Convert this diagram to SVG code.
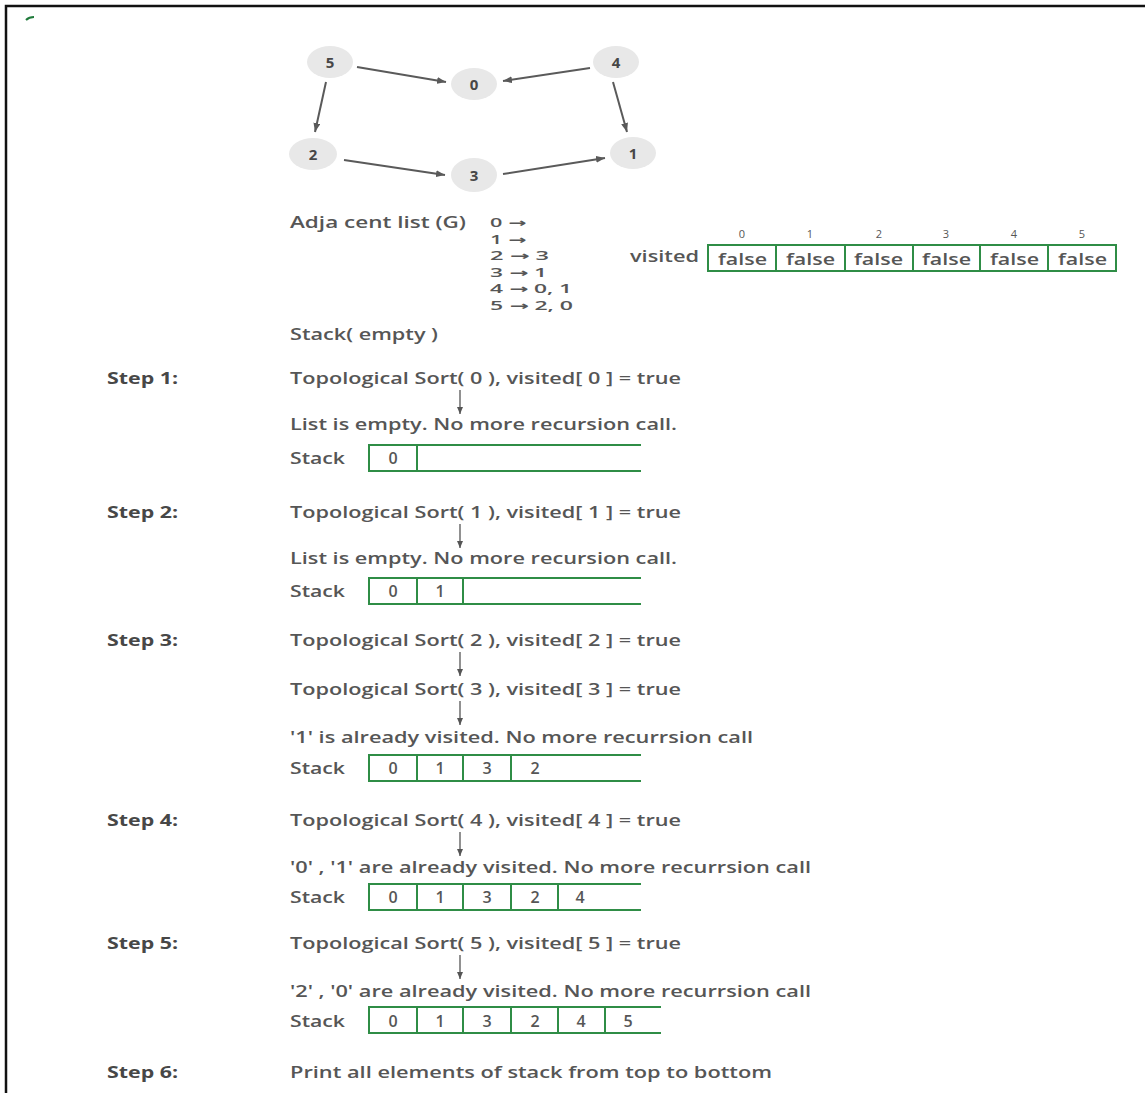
<svg xmlns="http://www.w3.org/2000/svg" width="1145" height="1093" viewBox="0 0 1145 1093">
<style>
text{font-family:"Open Sans","Noto Sans","DejaVu Sans",sans-serif;fill:#565656;font-size:16px;font-weight:600}
.b{font-weight:bold;fill:#474747}
.nl{font-weight:bold;fill:#474747;font-size:15px;text-anchor:middle}
.c{text-anchor:middle}
.adj{font-size:12px}
.idx{font-size:11px;text-anchor:middle;font-weight:normal}
.node{fill:#e8e8e8}
.edge{stroke:#5a5a5a;stroke-width:2;fill:none;marker-end:url(#ah)}
.down{stroke:#555;stroke-width:1.3;fill:none;marker-end:url(#ahs)}
.box{fill:none;stroke:#2f8d46;stroke-width:2}
</style>
<defs>
<marker id="ah" markerUnits="userSpaceOnUse" markerWidth="9" markerHeight="7" refX="9" refY="3.5" orient="auto"><path d="M0,0 L9,3.5 L0,7 z" fill="#5a5a5a"/></marker>
<marker id="ahs" markerUnits="userSpaceOnUse" markerWidth="7" markerHeight="6" refX="7" refY="3" orient="auto"><path d="M0,0 L7,3 L0,6 z" fill="#555"/></marker>
</defs>
<rect width="1145" height="1093" fill="#fff"/>
<path d="M6,1093 V6 H1145" fill="none" stroke="#111" stroke-width="2.5"/>
<path d="M26,20 Q29,17 34,17" fill="none" stroke="#1f7a3a" stroke-width="2"/>

<g id="connectors">
<line class="edge" x1="357" y1="67" x2="446" y2="82"/>
<line class="edge" x1="590" y1="68" x2="503" y2="81"/>
<line class="edge" x1="326" y1="82" x2="315" y2="132"/>
<line class="edge" x1="613" y1="82" x2="627" y2="132"/>
<line class="edge" x1="344" y1="160" x2="445" y2="175"/>
<line class="edge" x1="503" y1="174" x2="605" y2="158"/>
</g>

<g id="node-5"><ellipse class="node" cx="330" cy="62" rx="23" ry="16"/><text class="nl" x="330" y="68">5</text></g>
<g id="node-0"><ellipse class="node" cx="474" cy="84" rx="23" ry="16"/><text class="nl" x="474" y="90">0</text></g>
<g id="node-4"><ellipse class="node" cx="616" cy="62" rx="23" ry="16"/><text class="nl" x="616" y="68">4</text></g>
<g id="node-2"><ellipse class="node" cx="313" cy="154" rx="24" ry="16"/><text class="nl" x="313" y="160">2</text></g>
<g id="node-3"><ellipse class="node" cx="474" cy="175" rx="23" ry="17"/><text class="nl" x="474" y="181">3</text></g>
<g id="node-1"><ellipse class="node" cx="633" cy="153" rx="23" ry="16"/><text class="nl" x="633" y="159">1</text></g>

<g id="adjacency">
<text x="290" y="228" textLength="176" lengthAdjust="spacingAndGlyphs">Adja cent list  (G)</text>
<text class="adj" x="490" y="227" textLength="36" lengthAdjust="spacingAndGlyphs">0 →</text>
<text class="adj" x="490" y="243.5" textLength="36" lengthAdjust="spacingAndGlyphs">1 →</text>
<text class="adj" x="490" y="260" textLength="59" lengthAdjust="spacingAndGlyphs">2 → 3</text>
<text class="adj" x="490" y="276.5" textLength="57" lengthAdjust="spacingAndGlyphs">3 → 1</text>
<text class="adj" x="490" y="293" textLength="82" lengthAdjust="spacingAndGlyphs">4 → 0, 1</text>
<text class="adj" x="490" y="309.5" textLength="83" lengthAdjust="spacingAndGlyphs">5 → 2, 0</text>
<text x="290" y="340" textLength="148" lengthAdjust="spacingAndGlyphs">Stack( empty )</text>
</g>

<g id="visited">
<text x="630" y="262" textLength="69" lengthAdjust="spacingAndGlyphs">visited</text>
<rect class="box" x="708" y="245" width="408" height="26"/>
<path class="box" d="M776,245 V271 M845,245 V271 M913,245 V271 M980,245 V271 M1048,245 V271"/>
<text class="idx" x="742" y="238">0</text>
<text class="idx" x="810" y="238">1</text>
<text class="idx" x="879" y="238">2</text>
<text class="idx" x="946" y="238">3</text>
<text class="idx" x="1014" y="238">4</text>
<text class="idx" x="1082" y="238">5</text>
<text x="718" y="265" textLength="49" lengthAdjust="spacingAndGlyphs">false</text>
<text x="786" y="265" textLength="49" lengthAdjust="spacingAndGlyphs">false</text>
<text x="854" y="265" textLength="49" lengthAdjust="spacingAndGlyphs">false</text>
<text x="922" y="265" textLength="49" lengthAdjust="spacingAndGlyphs">false</text>
<text x="990" y="265" textLength="49" lengthAdjust="spacingAndGlyphs">false</text>
<text x="1058" y="265" textLength="49" lengthAdjust="spacingAndGlyphs">false</text>
</g>

<g id="step-1">
<text class="b" x="107" y="384" textLength="71" lengthAdjust="spacingAndGlyphs">Step 1:</text>
<text x="290" y="384" textLength="391" lengthAdjust="spacingAndGlyphs">Topological Sort( 0 ), visited[ 0 ] = true</text>
<line class="down" x1="460" y1="390" x2="460" y2="414"/>
<text x="290" y="430" textLength="387" lengthAdjust="spacingAndGlyphs">List is empty. No more recursion call.</text>
<text x="290" y="464" textLength="55" lengthAdjust="spacingAndGlyphs">Stack</text>
<path class="box" d="M641,445 H369 V471 H641 M417,445 V471"/>
<text class="c" x="393" y="464">0</text>
</g>

<g id="step-2">
<text class="b" x="107" y="518" textLength="71" lengthAdjust="spacingAndGlyphs">Step 2:</text>
<text x="290" y="518" textLength="391" lengthAdjust="spacingAndGlyphs">Topological Sort( 1 ), visited[ 1 ] = true</text>
<line class="down" x1="460" y1="524" x2="460" y2="548"/>
<text x="290" y="564" textLength="387" lengthAdjust="spacingAndGlyphs">List is empty. No more recursion call.</text>
<text x="290" y="597" textLength="55" lengthAdjust="spacingAndGlyphs">Stack</text>
<path class="box" d="M641,578 H369 V604 H641 M417,578 V604 M463,578 V604"/>
<text class="c" x="393" y="597">0</text>
<text class="c" x="440" y="597">1</text>
</g>

<g id="step-3">
<text class="b" x="107" y="646" textLength="71" lengthAdjust="spacingAndGlyphs">Step 3:</text>
<text x="290" y="646" textLength="391" lengthAdjust="spacingAndGlyphs">Topological Sort( 2 ), visited[ 2 ] = true</text>
<line class="down" x1="460" y1="652" x2="460" y2="676"/>
<text x="290" y="695" textLength="391" lengthAdjust="spacingAndGlyphs">Topological Sort( 3 ), visited[ 3 ] = true</text>
<line class="down" x1="460" y1="701" x2="460" y2="725"/>
<text x="290" y="743" textLength="463" lengthAdjust="spacingAndGlyphs">'1' is already visited. No more recurrsion call</text>
<text x="290" y="774" textLength="55" lengthAdjust="spacingAndGlyphs">Stack</text>
<path class="box" d="M641,755 H369 V781 H641 M417,755 V781 M463,755 V781 M511,755 V781"/>
<text class="c" x="393" y="774">0</text>
<text class="c" x="440" y="774">1</text>
<text class="c" x="487" y="774">3</text>
<text class="c" x="535" y="774">2</text>
</g>

<g id="step-4">
<text class="b" x="107" y="826" textLength="71" lengthAdjust="spacingAndGlyphs">Step 4:</text>
<text x="290" y="826" textLength="391" lengthAdjust="spacingAndGlyphs">Topological Sort( 4 ), visited[ 4 ] = true</text>
<line class="down" x1="460" y1="832" x2="460" y2="856"/>
<text x="290" y="873" textLength="521" lengthAdjust="spacingAndGlyphs">'0' , '1' are already visited. No more recurrsion call</text>
<text x="290" y="903" textLength="55" lengthAdjust="spacingAndGlyphs">Stack</text>
<path class="box" d="M641,884 H369 V910 H641 M417,884 V910 M463,884 V910 M511,884 V910 M558,884 V910"/>
<text class="c" x="393" y="903">0</text>
<text class="c" x="440" y="903">1</text>
<text class="c" x="487" y="903">3</text>
<text class="c" x="535" y="903">2</text>
<text class="c" x="580" y="903">4</text>
</g>

<g id="step-5">
<text class="b" x="107" y="949" textLength="71" lengthAdjust="spacingAndGlyphs">Step 5:</text>
<text x="290" y="949" textLength="391" lengthAdjust="spacingAndGlyphs">Topological Sort( 5 ), visited[ 5 ] = true</text>
<line class="down" x1="460" y1="955" x2="460" y2="979"/>
<text x="290" y="997" textLength="521" lengthAdjust="spacingAndGlyphs">'2' , '0' are already visited. No more recurrsion call</text>
<text x="290" y="1027" textLength="55" lengthAdjust="spacingAndGlyphs">Stack</text>
<path class="box" d="M661,1007 H369 V1033 H661 M417,1007 V1033 M463,1007 V1033 M511,1007 V1033 M558,1007 V1033 M605,1007 V1033"/>
<text class="c" x="393" y="1027">0</text>
<text class="c" x="440" y="1027">1</text>
<text class="c" x="487" y="1027">3</text>
<text class="c" x="535" y="1027">2</text>
<text class="c" x="581" y="1027">4</text>
<text class="c" x="628" y="1027">5</text>
</g>

<g id="step-6">
<text class="b" x="107" y="1078" textLength="71" lengthAdjust="spacingAndGlyphs">Step 6:</text>
<text x="290" y="1078" textLength="482" lengthAdjust="spacingAndGlyphs">Print all elements of stack from top to bottom</text>
</g>
</svg>
